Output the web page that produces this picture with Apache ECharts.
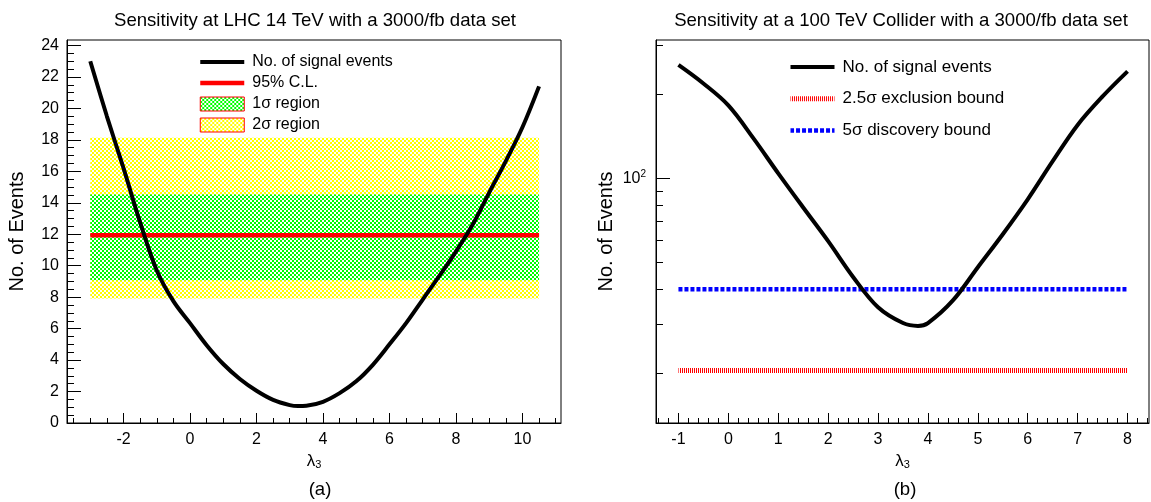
<!DOCTYPE html>
<html>
<head>
<meta charset="utf-8">
<script src="https://cdn.jsdelivr.net/npm/echarts@6/dist/echarts.min.js"></script>
<style>
  html, body { margin: 0; padding: 0; background: #fff; }
  #chart { width: 1151px; height: 502px; }
</style>
</head>
<body>
<div id="chart"></div>
<script>
// ---- LHC 14 TeV, 3000/fb: signal events versus lambda_3 ----
const lhcLambda = [-3, -2.5, -2, -1.5, -1, -0.5, 0, 0.5, 1, 1.5, 2, 2.5, 3, 3.25, 3.5, 4, 4.5, 5, 5.5, 6, 6.5, 7, 7.5, 8, 8.5, 9, 9.5, 10, 10.5];
const lhcEvents = [23.0, 19.5, 16.2, 12.75, 9.7, 7.75, 6.35, 4.95, 3.75, 2.8, 2.05, 1.47, 1.14, 1.08, 1.1, 1.35, 1.9, 2.65, 3.7, 5.0, 6.35, 7.85, 9.35, 10.9, 12.6, 14.65, 16.65, 18.8, 21.4];
const lhcCL95 = 11.94;            // 95% C.L. event count
const lhcBand1Sigma = [9.08, 14.52];
const lhcBand2Sigma = [7.92, 18.14];
const lhcBandRange = [-3, 10.5];  // lambda_3 span of the limit lines and bands

// ---- 100 TeV collider, 3000/fb ----
const fccLambda = [-1, -0.5, 0, 0.5, 1, 1.5, 2, 2.5, 3, 3.5, 3.8, 4, 4.5, 5, 5.5, 6, 6.5, 7, 7.5, 8];
const fccEvents = [254, 218, 182, 139, 104, 78.5, 59.5, 44.3, 34.5, 30.3, 29.6, 30.3, 36.5, 48, 63, 84, 115, 155, 196, 241];
const fccExclusion = 20.5;        // 2.5 sigma exclusion bound
const fccDiscovery = 40;          // 5 sigma discovery bound
const fccRange = [-1, 8];

// ---- axis ticks ----
const lhcXTicks = [-2, 0, 2, 4, 6, 8, 10];
const lhcYTicks = [0, 2, 4, 6, 8, 10, 12, 14, 16, 18, 20, 22, 24];
const fccXTicks = [-1, 0, 1, 2, 3, 4, 5, 6, 7, 8];
const fccYTicks = [100];
const fccYMinorTicks = [20, 30, 40, 50, 60, 70, 80, 90, 200, 300];

function minorTicks(from, to, step, majors) {
  const out = [];
  const n = Math.round((to - from) / step);
  for (let i = 0; i <= n; i++) {
    const v = +(from + i * step).toFixed(4);
    if (!majors.some(m => Math.abs(m - v) < 1e-6)) out.push(v);
  }
  return out;
}
const lhcXMinor = minorTicks(-3.5, 11, 0.5, lhcXTicks);
const lhcYMinor = minorTicks(0, 24, 0.5, lhcYTicks);
const fccXMinor = minorTicks(-1.4, 8.4, 0.2, fccXTicks);

const FONT = "'Liberation Sans', Arial, Helvetica, sans-serif";

// checkerboard fill used for the sigma bands
function checker(color) {
  const c = document.createElement('canvas');
  c.width = 4; c.height = 4;
  const g = c.getContext('2d');
  g.fillStyle = '#ffffff';
  g.fillRect(0, 0, 4, 4);
  g.fillStyle = color;
  g.fillRect(0, 0, 2, 2);
  g.fillRect(2, 2, 2, 2);
  return c;
}
const greenFill = { image: checker('#00ff00'), repeat: 'repeat' };
const yellowFill = { image: checker('#ffff00'), repeat: 'repeat' };

const zip = (xs, ys) => xs.map((x, i) => [x, ys[i]]);

const tickLabel = { color: '#000', fontSize: 16, fontFamily: FONT };
const lambdaName = {
  name: '{l|λ}{s|3}',
  nameLocation: 'middle',
  nameGap: 27,
  nameTextStyle: {
    rich: {
      l: { fontSize: 17, color: '#000', fontFamily: FONT },
      s: { fontSize: 11, color: '#000', fontFamily: FONT, verticalAlign: 'bottom', padding: [7, 0, 0, 0] }
    }
  }
};

function majorAxis(extra) {
  return Object.assign({
    type: 'value',
    axisLine: { show: true, onZero: false, lineStyle: { color: '#000', width: 1 } },
    splitLine: { show: false },
    axisTick: { show: true, inside: true, lineStyle: { color: '#000', width: 1 } },
    axisLabel: Object.assign({ show: true }, tickLabel)
  }, extra);
}
function minorAxis(extra) {
  return Object.assign({
    type: 'value',
    axisLine: { show: false, onZero: false },
    splitLine: { show: false },
    axisLabel: { show: false },
    axisTick: { show: true, inside: true, lineStyle: { color: '#000', width: 1 } }
  }, extra);
}

const chart = echarts.init(document.getElementById('chart'), null, { renderer: 'canvas' });

const titleStyle = { fontSize: 18.6, fontWeight: 'normal', color: '#000', fontFamily: FONT };
const hiddenSymbol = { opacity: 0 };

const option = {
  animation: false,
  backgroundColor: '#fff',
  textStyle: { fontFamily: FONT, color: '#000' },
  title: [
    { text: 'Sensitivity at LHC 14 TeV with a 3000/fb data set', left: 315, top: 11, textAlign: 'center', padding: 0, textStyle: titleStyle },
    { text: 'Sensitivity at a 100 TeV Collider with a 3000/fb data set', left: 901, top: 11, textAlign: 'center', padding: 0, textStyle: titleStyle },
    { text: '(a)', left: 320, top: 480, textAlign: 'center', padding: 0, textStyle: titleStyle },
    { text: '(b)', left: 905, top: 480, textAlign: 'center', padding: 0, textStyle: titleStyle }
  ],
  legend: [
    {
      orient: 'vertical', left: 198, top: 54, padding: 0, itemWidth: 44, itemHeight: 14, itemGap: 5,
      selectedMode: false,
      lineStyle: { width: 'inherit' },
      textStyle: { fontSize: 16, color: '#000', fontFamily: FONT, padding: [0, 0, 0, 3] },
      data: [
        { name: 'No. of signal events', itemStyle: hiddenSymbol },
        { name: '95% C.L.', itemStyle: hiddenSymbol },
        { name: '1σ region', icon: 'rect', itemStyle: { color: greenFill, borderColor: '#ff0000', borderWidth: 1, opacity: 1 } },
        { name: '2σ region', icon: 'rect', itemStyle: { color: yellowFill, borderColor: '#ff0000', borderWidth: 1, opacity: 1 } }
      ]
    },
    {
      orient: 'vertical', left: 788, top: 58.5, padding: 0, itemWidth: 44, itemHeight: 14, itemGap: 14.7,
      selectedMode: false,
      lineStyle: { width: 'inherit' },
      textStyle: { fontSize: 17, color: '#000', fontFamily: FONT, padding: [0, 0, 0, 3] },
      data: [
        { name: 'No. of signal events', itemStyle: hiddenSymbol },
        { name: '2.5σ exclusion bound', itemStyle: hiddenSymbol, lineStyle: { color: '#ff0000' } },
        { name: '5σ discovery bound', itemStyle: hiddenSymbol }
      ]
    }
  ],
  grid: [
    { left: 67, top: 40, width: 494, height: 383, show: true, borderColor: '#000', borderWidth: 1, backgroundColor: 'transparent' },
    { left: 656, top: 40, width: 493, height: 383, show: true, borderColor: '#000', borderWidth: 1, backgroundColor: 'transparent' }
  ],
  xAxis: [
    majorAxis(Object.assign({ gridIndex: 0, position: 'bottom', min: -3.7, max: 11.16 }, lambdaName, {
      axisTick: { show: true, inside: true, length: 10, customValues: lhcXTicks, lineStyle: { color: '#000' } },
      axisLabel: Object.assign({ customValues: lhcXTicks, margin: 9 }, tickLabel)
    })),
    minorAxis({ gridIndex: 0, position: 'bottom', min: -3.7, max: 11.16,
      axisTick: { show: true, inside: true, length: 5, customValues: lhcXMinor, lineStyle: { color: '#000' } } }),
    majorAxis(Object.assign({ gridIndex: 1, position: 'bottom', min: -1.45, max: 8.43 }, lambdaName, {
      axisTick: { show: true, inside: true, length: 10, customValues: fccXTicks, lineStyle: { color: '#000' } },
      axisLabel: Object.assign({ customValues: fccXTicks, margin: 9 }, tickLabel)
    })),
    minorAxis({ gridIndex: 1, position: 'bottom', min: -1.45, max: 8.43,
      axisTick: { show: true, inside: true, length: 5, customValues: fccXMinor, lineStyle: { color: '#000' } } })
  ],
  yAxis: [
    majorAxis({ gridIndex: 0, position: 'left', min: 0, max: 24.35,
      name: 'No. of Events', nameLocation: 'middle', nameGap: 40,
      nameTextStyle: { fontSize: 20, color: '#000', fontFamily: FONT },
      axisTick: { show: true, inside: true, length: 14, customValues: lhcYTicks, lineStyle: { color: '#000' } },
      axisLabel: Object.assign({ customValues: lhcYTicks, margin: 8 }, tickLabel)
    }),
    minorAxis({ gridIndex: 0, position: 'left', min: 0, max: 24.35,
      axisTick: { show: true, inside: true, length: 7, customValues: lhcYMinor, lineStyle: { color: '#000' } } }),
    majorAxis({ gridIndex: 1, type: 'log', logBase: 10, position: 'left', min: 13.3, max: 312,
      name: 'No. of Events', nameLocation: 'middle', nameGap: 40,
      nameTextStyle: { fontSize: 20, color: '#000', fontFamily: FONT },
      axisTick: { show: true, inside: true, length: 14, customValues: fccYTicks, lineStyle: { color: '#000' } },
      axisLabel: {
        customValues: fccYTicks, margin: 10, color: '#000', fontFamily: FONT,
        formatter: v => '{b|10}{e|' + Math.round(Math.log10(v)) + '}',
        rich: {
          b: { fontSize: 16, color: '#000', fontFamily: FONT, lineHeight: 18 },
          e: { fontSize: 10, color: '#000', fontFamily: FONT, verticalAlign: 'top', lineHeight: 10 }
        }
      }
    }),
    minorAxis({ gridIndex: 1, type: 'log', logBase: 10, position: 'left', min: 13.3, max: 312,
      axisTick: { show: true, inside: true, length: 7, customValues: fccYMinorTicks, lineStyle: { color: '#000' } } })
  ],
  series: [
    {
      name: '2σ region', type: 'line', xAxisIndex: 0, yAxisIndex: 0, data: [], symbol: 'none',
      itemStyle: { color: '#ffff00' },
      markArea: {
        silent: true, z: 1,
        itemStyle: { color: yellowFill, opacity: 1, borderWidth: 0 },
        data: [[{ coord: [lhcBandRange[0], lhcBand2Sigma[0]] }, { coord: [lhcBandRange[1], lhcBand2Sigma[1]] }]]
      }
    },
    {
      name: '1σ region', type: 'line', xAxisIndex: 0, yAxisIndex: 0, data: [], symbol: 'none',
      itemStyle: { color: '#00ff00' },
      markArea: {
        silent: true, z: 2,
        itemStyle: { color: greenFill, opacity: 1, borderWidth: 0 },
        data: [[{ coord: [lhcBandRange[0], lhcBand1Sigma[0]] }, { coord: [lhcBandRange[1], lhcBand1Sigma[1]] }]]
      }
    },
    {
      name: '95% C.L.', type: 'line', xAxisIndex: 0, yAxisIndex: 0, z: 3, symbol: 'none',
      data: [[lhcBandRange[0], lhcCL95], [lhcBandRange[1], lhcCL95]],
      itemStyle: { color: '#ff0000' },
      lineStyle: { color: '#ff0000', width: 4.5 }
    },
    {
      name: 'No. of signal events', type: 'line', xAxisIndex: 0, yAxisIndex: 0, z: 4, symbol: 'none',
      smooth: 0.35,
      data: zip(lhcLambda, lhcEvents),
      itemStyle: { color: '#000' },
      lineStyle: { color: '#000', width: 4 }
    },
    {
      name: '2.5σ exclusion bound', type: 'line', xAxisIndex: 2, yAxisIndex: 2, z: 3, symbol: 'none',
      data: [[fccRange[0], fccExclusion], [fccRange[1], fccExclusion]],
      itemStyle: { color: '#ff0000' },
      lineStyle: { color: '#ff0000', width: 5, type: [1, 1], dashOffset: 0.46 }
    },
    {
      name: '5σ discovery bound', type: 'line', xAxisIndex: 2, yAxisIndex: 2, z: 3, symbol: 'none',
      data: [[fccRange[0], fccDiscovery], [fccRange[1], fccDiscovery]],
      itemStyle: { color: '#0000ff' },
      lineStyle: { color: '#0000ff', width: 4.5, type: [4, 2] }
    },
    {
      name: 'No. of signal events', type: 'line', xAxisIndex: 2, yAxisIndex: 2, z: 4, symbol: 'none',
      smooth: 0.35,
      data: zip(fccLambda, fccEvents),
      itemStyle: { color: '#000' },
      lineStyle: { color: '#000', width: 4 }
    }
  ]
};

chart.setOption(option);
</script>
</body>
</html>
